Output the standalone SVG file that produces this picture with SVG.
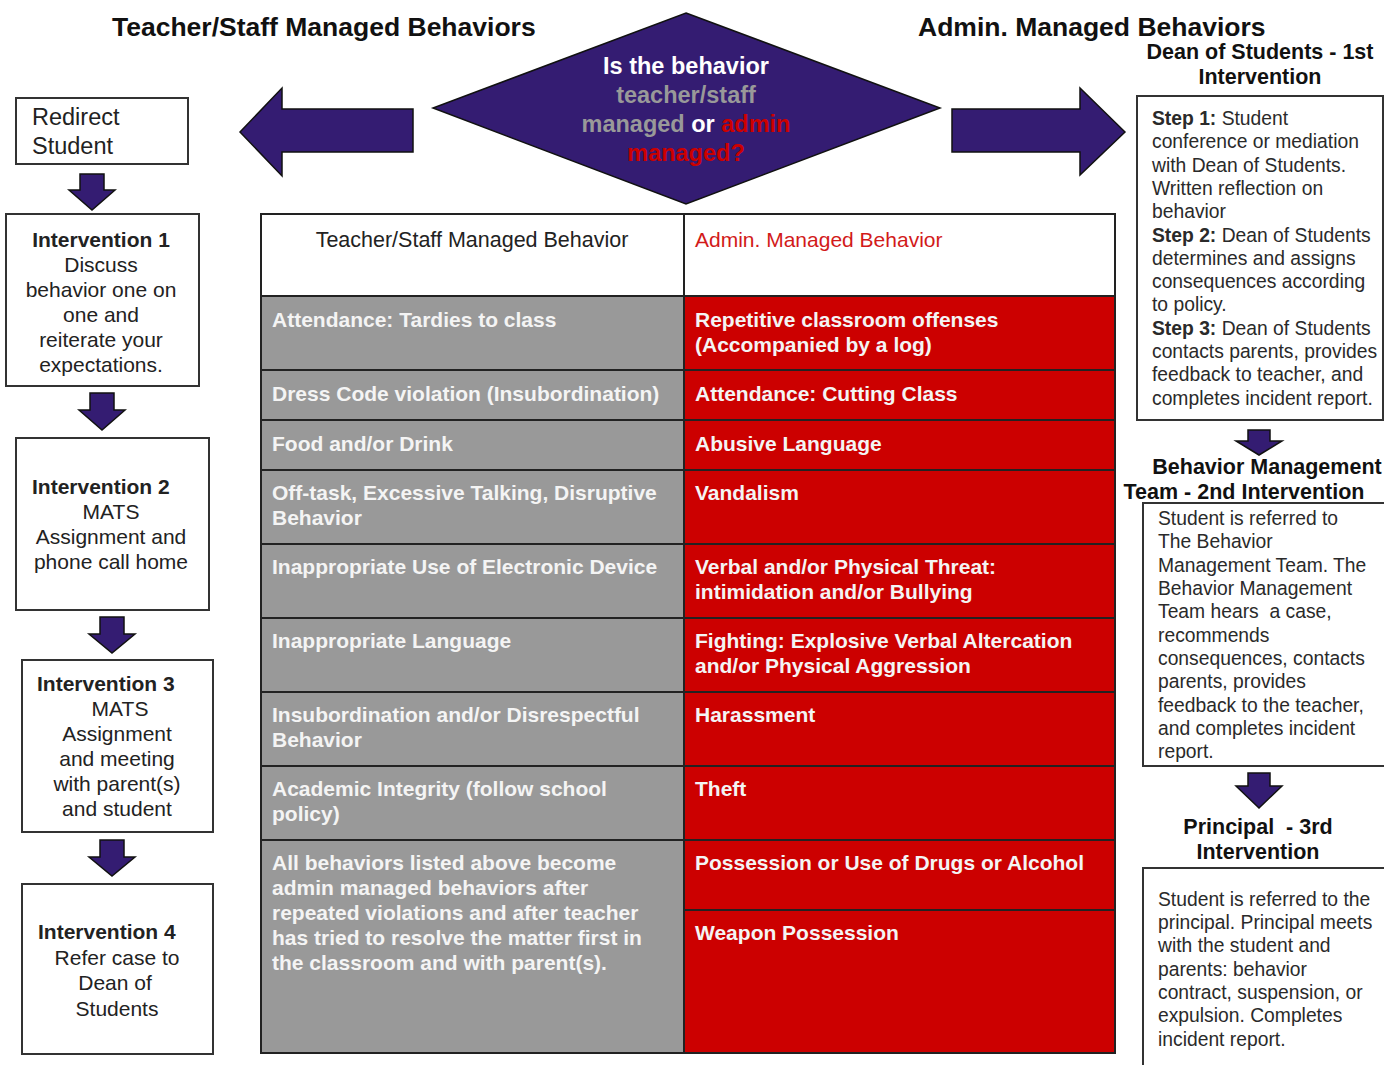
<svg xmlns="http://www.w3.org/2000/svg" width="1384" height="1065" viewBox="0 0 1384 1065">
<style>
text{font-family:"Liberation Sans",Arial,Helvetica,sans-serif;}
.title{font-size:26.5px;font-weight:bold;fill:#111;}
.sub{font-size:21.5px;font-weight:bold;fill:#111;text-anchor:middle;}
.box{fill:#fff;stroke:#333;stroke-width:2;}
.lt{font-size:21px;fill:#222;}
.lb{font-size:21px;font-weight:bold;fill:#222;}
.c{text-anchor:middle;}
.rt{font-size:19.3px;fill:#2a2a2a;}
.b{font-weight:bold;}
.arr{fill:#341c72;stroke:#111;stroke-width:1.5;stroke-linejoin:miter;}
.dt{font-size:23.5px;font-weight:bold;text-anchor:middle;}
.gray{fill:#999999;stroke:#222;stroke-width:2;}
.red{fill:#cc0000;stroke:#222;stroke-width:2;}
.hd{fill:#fff;stroke:#222;stroke-width:2;}
.tt{font-size:21px;font-weight:bold;fill:#f4f4f4;}
</style>

<text class="title" x="112" y="36">Teacher/Staff Managed Behaviors</text>
<text class="title" x="918" y="36">Admin. Managed Behaviors</text>

<g id="decision">
<polygon points="686,13 940,108 686,204 433,108" fill="#341c72" stroke="#111" stroke-width="1.5"/>
<text class="dt" x="686" y="74" fill="#ffffff">Is the behavior</text>
<text class="dt" x="686" y="103" fill="#999999">teacher/staff</text>
<text class="dt" x="686" y="132"><tspan fill="#999999">managed</tspan><tspan fill="#ffffff"> or </tspan><tspan fill="#cc0000">admin</tspan></text>
<text class="dt" x="686" y="161" fill="#cc0000">managed?</text>
</g>

<g id="connectors">
<polygon class="arr" points="240,132 282,88 282,109 413,109 413,152 282,152 282,176"/>
<polygon class="arr" points="1125,132 1080,88 1080,109 952,109 952,152 1080,152 1080,175"/>
<polygon class="arr" points="80,174 104,174 104,190 115,190 92,210 69,190 80,190"/>
<polygon class="arr" points="90,393 114,393 114,410 125,410 102,430 79,410 90,410"/>
<polygon class="arr" points="100,617 124,617 124,634 135,634 112,653 89,634 100,634"/>
<polygon class="arr" points="100,840 124,840 124,857 135,857 112,876 89,857 100,857"/>
<polygon class="arr" points="1248,430 1270,430 1270,441 1282,441 1259,455 1236,441 1248,441"/>
<polygon class="arr" points="1248,773 1270,773 1270,786 1282,786 1259,808 1236,786 1248,786"/>
</g>

<g id="redirect">
<rect class="box" x="16" y="98" width="172" height="66"/>
<text class="lt" x="32" y="125" style="font-size:23.5px">Redirect</text>
<text class="lt" x="32" y="154" style="font-size:23.5px">Student</text>
</g>

<g id="intervention1">
<rect class="box" x="6" y="214" width="193" height="172"/>
<text class="lb c" x="101" y="247">Intervention 1</text>
<text class="lt c" x="101" y="272">Discuss</text>
<text class="lt c" x="101" y="297">behavior one on</text>
<text class="lt c" x="101" y="322">one and</text>
<text class="lt c" x="101" y="347">reiterate your</text>
<text class="lt c" x="101" y="372">expectations.</text>
</g>

<g id="intervention2">
<rect class="box" x="16" y="438" width="193" height="172"/>
<text class="lb" x="32" y="494">Intervention 2</text>
<text class="lt c" x="111" y="519">MATS</text>
<text class="lt c" x="111" y="544">Assignment and</text>
<text class="lt c" x="111" y="569">phone call home</text>
</g>

<g id="intervention3">
<rect class="box" x="22" y="660" width="191" height="172"/>
<text class="lb" x="37" y="691">Intervention 3</text>
<text class="lt c" x="120" y="716">MATS</text>
<text class="lt c" x="117" y="741">Assignment</text>
<text class="lt c" x="117" y="766">and meeting</text>
<text class="lt c" x="117" y="791">with parent(s)</text>
<text class="lt c" x="117" y="816">and student</text>
</g>

<g id="intervention4">
<rect class="box" x="22" y="884" width="191" height="170"/>
<text class="lb" x="38" y="939">Intervention 4</text>
<text class="lt c" x="117" y="965">Refer case to</text>
<text class="lt c" x="115" y="990">Dean of</text>
<text class="lt c" x="117" y="1016">Students</text>
</g>

<g id="table">
<rect class="hd" x="261" y="214" width="423" height="82"/>
<rect class="hd" x="684" y="214" width="431" height="82"/>
<text class="lt c" x="472" y="247" style="fill:#222;font-size:21.5px">Teacher/Staff Managed Behavior</text>
<text class="lt" x="695" y="247" style="fill:#d21a1a">Admin. Managed Behavior</text>

<rect class="gray" x="261" y="296" width="423" height="74"/>
<rect class="red" x="684" y="296" width="431" height="74"/>
<rect class="gray" x="261" y="370" width="423" height="50"/>
<rect class="red" x="684" y="370" width="431" height="50"/>
<rect class="gray" x="261" y="420" width="423" height="50"/>
<rect class="red" x="684" y="420" width="431" height="50"/>
<rect class="gray" x="261" y="470" width="423" height="74"/>
<rect class="red" x="684" y="470" width="431" height="74"/>
<rect class="gray" x="261" y="544" width="423" height="74"/>
<rect class="red" x="684" y="544" width="431" height="74"/>
<rect class="gray" x="261" y="618" width="423" height="74"/>
<rect class="red" x="684" y="618" width="431" height="74"/>
<rect class="gray" x="261" y="692" width="423" height="74"/>
<rect class="red" x="684" y="692" width="431" height="74"/>
<rect class="gray" x="261" y="766" width="423" height="74"/>
<rect class="red" x="684" y="766" width="431" height="74"/>
<rect class="gray" x="261" y="840" width="423" height="213"/>
<rect class="red" x="684" y="840" width="431" height="70"/>
<rect class="red" x="684" y="910" width="431" height="143"/>

<text class="tt" x="272" y="327">Attendance: Tardies to class</text>
<text class="tt" x="695" y="327">Repetitive classroom offenses</text>
<text class="tt" x="695" y="352">(Accompanied by a log)</text>
<text class="tt" x="272" y="401">Dress Code violation (Insubordination)</text>
<text class="tt" x="695" y="401">Attendance: Cutting Class</text>
<text class="tt" x="272" y="451">Food and/or Drink</text>
<text class="tt" x="695" y="451">Abusive Language</text>
<text class="tt" x="272" y="500">Off-task, Excessive Talking, Disruptive</text>
<text class="tt" x="272" y="525">Behavior</text>
<text class="tt" x="695" y="500">Vandalism</text>
<text class="tt" x="272" y="574">Inappropriate Use of Electronic Device</text>
<text class="tt" x="695" y="574">Verbal and/or Physical Threat:</text>
<text class="tt" x="695" y="599">intimidation and/or Bullying</text>
<text class="tt" x="272" y="648">Inappropriate Language</text>
<text class="tt" x="695" y="648">Fighting: Explosive Verbal Altercation</text>
<text class="tt" x="695" y="673">and/or Physical Aggression</text>
<text class="tt" x="272" y="722">Insubordination and/or Disrespectful</text>
<text class="tt" x="272" y="747">Behavior</text>
<text class="tt" x="695" y="722">Harassment</text>
<text class="tt" x="272" y="796">Academic Integrity (follow school</text>
<text class="tt" x="272" y="821">policy)</text>
<text class="tt" x="695" y="796">Theft</text>
<text class="tt" x="272" y="870">All behaviors listed above become</text>
<text class="tt" x="272" y="895">admin managed behaviors after</text>
<text class="tt" x="272" y="920">repeated violations and after teacher</text>
<text class="tt" x="272" y="945">has tried to resolve the matter first in</text>
<text class="tt" x="272" y="970">the classroom and with parent(s).</text>
<text class="tt" x="695" y="870">Possession or Use of Drugs or Alcohol</text>
<text class="tt" x="695" y="940">Weapon Possession</text>
</g>

<g id="dean">
<text class="sub" x="1260" y="59">Dean of Students - 1st</text>
<text class="sub" x="1260" y="84">Intervention</text>
<rect class="box" x="1137" y="96" width="246" height="324"/>
<text class="rt" x="1152" y="125"><tspan class="b">Step 1:</tspan> Student</text>
<text class="rt" x="1152" y="148">conference or mediation</text>
<text class="rt" x="1152" y="172">with Dean of Students.</text>
<text class="rt" x="1152" y="195">Written reflection on</text>
<text class="rt" x="1152" y="218">behavior</text>
<text class="rt" x="1152" y="242"><tspan class="b">Step 2:</tspan> Dean of Students</text>
<text class="rt" x="1152" y="265">determines and assigns</text>
<text class="rt" x="1152" y="288">consequences according</text>
<text class="rt" x="1152" y="311">to policy.</text>
<text class="rt" x="1152" y="335"><tspan class="b">Step 3:</tspan> Dean of Students</text>
<text class="rt" x="1152" y="358">contacts parents, provides</text>
<text class="rt" x="1152" y="381">feedback to teacher, and</text>
<text class="rt" x="1152" y="405">completes incident report.</text>
</g>

<g id="bmt">
<text class="sub" x="1267" y="474">Behavior Management</text>
<text class="sub" x="1244" y="499">Team - 2nd Intervention</text>
<rect class="box" x="1143" y="503" width="242" height="263"/>
<text class="rt" x="1158" y="525">Student is referred to</text>
<text class="rt" x="1158" y="548">The Behavior</text>
<text class="rt" x="1158" y="572">Management Team. The</text>
<text class="rt" x="1158" y="595">Behavior Management</text>
<text class="rt" x="1158" y="618" xml:space="preserve">Team hears  a case,</text>
<text class="rt" x="1158" y="642">recommends</text>
<text class="rt" x="1158" y="665">consequences, contacts</text>
<text class="rt" x="1158" y="688">parents, provides</text>
<text class="rt" x="1158" y="712">feedback to the teacher,</text>
<text class="rt" x="1158" y="735">and completes incident</text>
<text class="rt" x="1158" y="758">report.</text>
</g>

<g id="principal">
<text class="sub" x="1258" y="834" xml:space="preserve">Principal  - 3rd</text>
<text class="sub" x="1258" y="859">Intervention</text>
<rect class="box" x="1143" y="868" width="245" height="210"/>
<text class="rt" x="1158" y="906">Student is referred to the</text>
<text class="rt" x="1158" y="929">principal. Principal meets</text>
<text class="rt" x="1158" y="952">with the student and</text>
<text class="rt" x="1158" y="976">parents: behavior</text>
<text class="rt" x="1158" y="999">contract, suspension, or</text>
<text class="rt" x="1158" y="1022">expulsion. Completes</text>
<text class="rt" x="1158" y="1046">incident report.</text>
</g>
</svg>
